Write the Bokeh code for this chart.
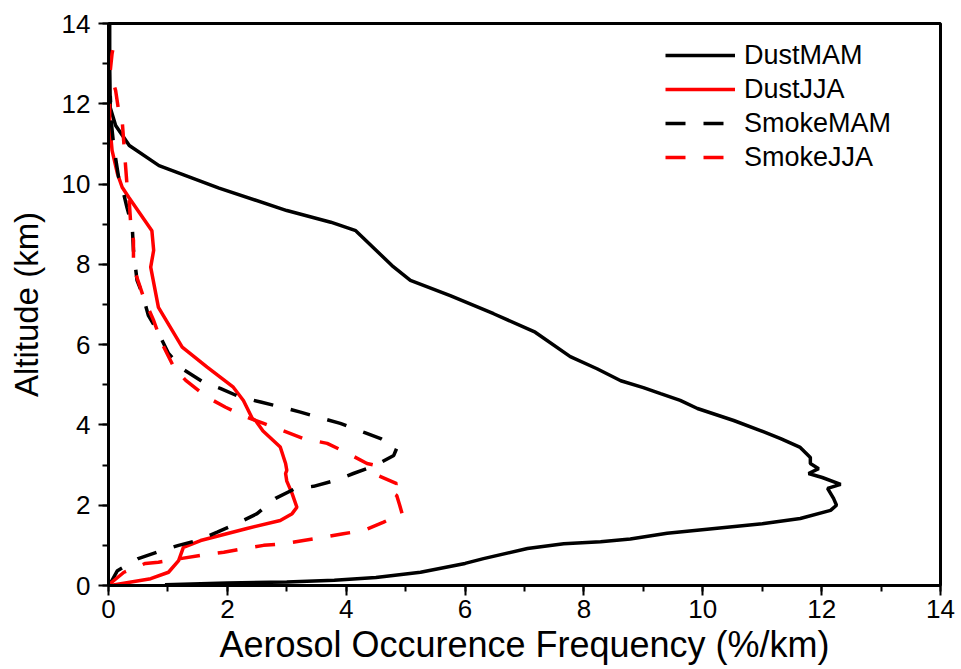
from bokeh.plotting import figure
from bokeh.models import Range1d, SingleIntervalTicker, Legend, LegendItem
from bokeh.embed import file_html
from bokeh.resources import INLINE

# ---- data ----
dust_mam_alt = [0.02, 0.06, 0.09, 0.13, 0.20, 0.33, 0.55, 0.67, 0.92, 1.04, 1.09, 1.16, 1.30, 1.42, 1.54,
                1.67, 1.87, 2.00, 2.17, 2.42, 2.52, 2.69, 2.79, 2.91, 3.04, 3.19, 3.44, 3.66, 3.86, 4.11,
                4.41, 4.61, 4.78, 4.93, 5.10, 5.40, 5.70, 6.31, 6.77, 7.22, 7.60, 7.97, 8.84, 9.05, 9.34,
                9.90, 10.46, 10.96, 11.46, 11.90, 13.0, 14.0]
dust_mam = [0.95, 2.0, 3.0, 3.8, 4.5, 5.25, 6.0, 6.31, 7.05, 7.66, 8.28, 8.78, 9.4, 10.2, 11.0,
            11.64, 12.15, 12.25, 12.2, 12.1, 12.32, 12.01, 11.78, 11.95, 11.81, 11.81, 11.64, 11.31, 10.97, 10.52,
            9.91, 9.62, 9.29, 9.0, 8.62, 8.22, 7.77, 7.18, 6.48, 5.75, 5.08, 4.77, 4.16, 3.74, 3.0,
            1.86, 0.85, 0.35, 0.12, 0.03, 0.02, 0.02]

dust_jja_alt = [0.0, 0.17, 0.33, 0.62, 0.95, 1.12, 1.42, 1.62, 1.79, 1.95, 2.29, 2.60, 2.79, 2.87, 3.04,
                3.45, 3.85, 4.10, 4.16, 4.61, 4.94, 5.44, 5.94, 6.93, 7.93, 8.35, 8.84, 9.67, 9.92, 10.26,
                10.84, 11.5, 12.0]
dust_jja = [0.03, 0.71, 1.01, 1.18, 1.26, 1.55, 2.33, 2.89, 3.09, 3.17, 3.09, 3.0, 2.98, 3.0, 2.98,
            2.89, 2.6, 2.48, 2.42, 2.27, 2.1, 1.66, 1.24, 0.84, 0.71, 0.76, 0.73, 0.34, 0.23, 0.15,
            0.06, 0.02, 0.02]

smoke_mam_alt = [0.05, 0.37, 0.67, 0.83, 1.0, 1.12, 1.33, 1.54, 1.79, 2.17, 2.42, 2.47, 2.62, 2.79, 2.99,
                 3.24, 3.42, 3.66, 3.82, 4.04, 4.16, 4.32, 4.44, 4.57, 4.69, 4.91, 5.06, 5.40, 5.78, 6.35,
                 6.73, 7.27, 7.60, 8.35, 8.93, 9.42, 9.92, 10.17, 10.92, 11.5, 12.2]
smoke_mam = [0.03, 0.15, 0.5, 0.82, 1.18, 1.49, 1.83, 2.16, 2.5, 2.81, 3.15, 3.45, 3.82, 4.12, 4.49,
             4.8, 4.85, 4.58, 4.29, 3.9, 3.6, 3.23, 2.92, 2.56, 2.22, 1.88, 1.6, 1.24, 1.01, 0.82,
             0.67, 0.57, 0.48, 0.42, 0.40, 0.31, 0.23, 0.17, 0.09, 0.05, 0.03]

smoke_jja_alt = [0.05, 0.33, 0.55, 0.58, 0.67, 0.75, 0.83, 0.92, 1.0, 1.04, 1.12, 1.2, 1.29, 1.37, 1.58,
                 1.79, 2.0, 2.24, 2.37, 2.54, 2.79, 2.99, 3.04, 3.32, 3.54, 3.66, 3.82, 4.04, 4.19, 4.44,
                 4.69, 5.11, 5.44, 6.03, 6.6, 7.18, 7.93, 8.6, 9.1, 9.77, 10.01, 10.59, 11.58, 11.83, 12.33,
                 12.63, 12.83, 13.25, 13.7]
smoke_jja = [0.03, 0.26, 0.62, 0.84, 1.21, 1.55, 1.94, 2.27, 2.61, 2.94, 3.28, 3.62, 3.95, 4.29, 4.63,
             4.94, 4.9, 4.85, 4.71, 4.85, 4.46, 4.5, 4.35, 3.99, 3.68, 3.28, 3.0, 2.61, 2.33, 1.97,
             1.66, 1.3, 1.1, 0.9, 0.76, 0.59, 0.42, 0.42, 0.37, 0.34, 0.31, 0.28, 0.23, 0.17, 0.12,
             0.06, 0.03, 0.06, 0.12]

series_names = ["DustMAM", "DustJJA", "SmokeMAM", "SmokeJJA"]

FONT = "Liberation Sans"

p = figure(width=961, height=669, output_backend="svg", toolbar_location=None,
           x_range=Range1d(0, 14), y_range=Range1d(0, 14),
           min_border_left=108, min_border_right=21, min_border_top=23, min_border_bottom=84)
p.grid.visible = False
p.outline_line_color = "black"
p.outline_line_width = 3
p.background_fill_color = "white"

for ax in (p.xaxis[0], p.yaxis[0]):
    ax.ticker = SingleIntervalTicker(interval=2, num_minor_ticks=2)
    ax.axis_line_width = 3
    ax.major_tick_line_width = 2
    ax.minor_tick_line_width = 2
    ax.major_tick_out = 10
    ax.major_tick_in = 0
    ax.minor_tick_out = 6
    ax.minor_tick_in = 0
    ax.major_label_text_font = FONT
    ax.major_label_text_font_size = "26px"
    ax.major_label_text_color = "black"
    ax.axis_label_text_font = FONT
    ax.axis_label_text_font_style = "normal"
    ax.axis_label_text_color = "black"

p.xaxis.axis_label = "Aerosol Occurence Frequency (%/km)"
p.xaxis.axis_label_text_font_size = "36px"
p.xaxis.major_label_standoff = 4
p.xaxis.axis_label_standoff = 3
p.yaxis.axis_label = "Altitude (km)"
p.yaxis.axis_label_text_font_size = "33px"
p.yaxis.major_label_standoff = 8
p.yaxis.axis_label_standoff = 14

lw = 3.5
r1 = p.line(dust_mam, dust_mam_alt, line_color="black", line_width=lw)
r2 = p.line(dust_jja, dust_jja_alt, line_color="#ff0000", line_width=lw)
r3 = p.line(smoke_mam, smoke_mam_alt, line_color="black", line_width=lw, line_dash="20 18")
r4 = p.line(smoke_jja, smoke_jja_alt, line_color="#ff0000", line_width=lw, line_dash="20 18")

legend = Legend(items=[LegendItem(label=n, renderers=[r]) for n, r in zip(series_names, [r1, r2, r3, r4])],
                location=(557, 411), glyph_width=70, glyph_height=34, label_height=34,
                spacing=0, padding=0, margin=0, label_standoff=9,
                label_text_font=FONT, label_text_font_size="27px", label_text_color="black",
                border_line_alpha=0, background_fill_alpha=0)
p.add_layout(legend)

open("out.html", "w").write(file_html(p, INLINE))
